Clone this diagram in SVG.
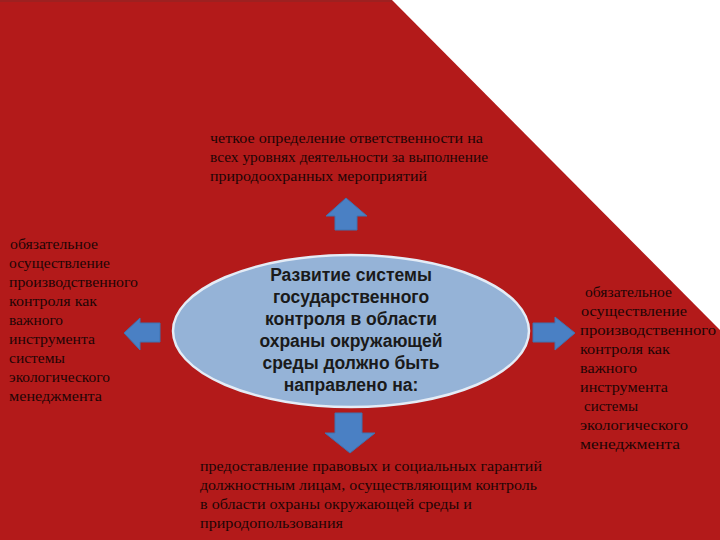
<svg xmlns="http://www.w3.org/2000/svg" width="720" height="540" viewBox="0 0 720 540">
<style>
.t{font-family:"Liberation Serif","Times New Roman",serif;font-size:15px;fill:#1e0505}
.c{font-family:"Liberation Sans",Arial,sans-serif;font-size:17.5px;font-weight:bold;fill:#1a1a1a;text-anchor:middle}
.arr{fill:#4a80c4;stroke:#3f72b0;stroke-width:1}
</style>
<rect width="720" height="540" fill="#ffffff"/>
<polygon points="0,0 392,0 720,330 720,540 0,540" fill="#b31a1a"/>
<line x1="0" y1="1" x2="392" y2="1" stroke="#9e2020" stroke-width="2"/>
<g id="connectors">
<polygon class="arr" points="346,198 367,216 357,216 357,230 335,230 335,216 326,216"/>
<polygon class="arr" points="124,333 140,318 140,323 160,323 160,342 140,342 140,350"/>
<polygon class="arr" points="575,333 555,317 555,323 533,323 533,342 555,342 555,350"/>
<polygon class="arr" points="350,453 375,433 362,433 362,413 335,413 335,433 325,433"/>
</g>
<g id="center">
<ellipse cx="351" cy="331" rx="178" ry="76" fill="#95b3d7" stroke="#e4ecf6" stroke-width="2.5"/>
<text class="c" x="351" y="281">Развитие системы</text>
<text class="c" x="351" y="303">государственного</text>
<text class="c" x="351" y="325">контроля в области</text>
<text class="c" x="351" y="347">охраны окружающей</text>
<text class="c" x="351" y="369">среды должно быть</text>
<text class="c" x="351" y="391">направлено на:</text>
</g>
<g id="top">
<text class="t" x="210" y="143" textLength="273" lengthAdjust="spacingAndGlyphs">четкое определение ответственности на</text>
<text class="t" x="210" y="162" textLength="278" lengthAdjust="spacingAndGlyphs">всех уровнях деятельности за выполнение</text>
<text class="t" x="210" y="181" textLength="217" lengthAdjust="spacingAndGlyphs">природоохранных мероприятий</text>
</g>
<g id="left">
<text class="t" x="10" y="249" textLength="88" lengthAdjust="spacingAndGlyphs">обязательное</text>
<text class="t" x="9" y="268" textLength="101" lengthAdjust="spacingAndGlyphs">осуществление</text>
<text class="t" x="9" y="287" textLength="129" lengthAdjust="spacingAndGlyphs">производственного</text>
<text class="t" x="9" y="306" textLength="88" lengthAdjust="spacingAndGlyphs">контроля как</text>
<text class="t" x="9" y="325" textLength="54" lengthAdjust="spacingAndGlyphs">важного</text>
<text class="t" x="9" y="344" textLength="86" lengthAdjust="spacingAndGlyphs">инструмента</text>
<text class="t" x="9" y="363" textLength="56" lengthAdjust="spacingAndGlyphs">системы</text>
<text class="t" x="9" y="382" textLength="101" lengthAdjust="spacingAndGlyphs">экологического</text>
<text class="t" x="9" y="401" textLength="93" lengthAdjust="spacingAndGlyphs">менеджмента</text>
</g>
<g id="right">
<text class="t" x="585" y="297" textLength="87" lengthAdjust="spacingAndGlyphs">обязательное</text>
<text class="t" x="581" y="316" textLength="106" lengthAdjust="spacingAndGlyphs">осуществление</text>
<text class="t" x="580" y="335" textLength="136" lengthAdjust="spacingAndGlyphs">производственного</text>
<text class="t" x="580" y="354" textLength="90" lengthAdjust="spacingAndGlyphs">контроля как</text>
<text class="t" x="580" y="373" textLength="57" lengthAdjust="spacingAndGlyphs">важного</text>
<text class="t" x="580" y="392" textLength="88" lengthAdjust="spacingAndGlyphs">инструмента</text>
<text class="t" x="584" y="411" textLength="54" lengthAdjust="spacingAndGlyphs">системы</text>
<text class="t" x="580" y="430" textLength="108" lengthAdjust="spacingAndGlyphs">экологического</text>
<text class="t" x="580" y="449" textLength="100" lengthAdjust="spacingAndGlyphs">менеджмента</text>
</g>
<g id="bottom">
<text class="t" x="200" y="471" textLength="342" lengthAdjust="spacingAndGlyphs">предоставление правовых и социальных гарантий</text>
<text class="t" x="200" y="490" textLength="337" lengthAdjust="spacingAndGlyphs">должностным лицам, осуществляющим контроль</text>
<text class="t" x="200" y="509" textLength="272" lengthAdjust="spacingAndGlyphs">в области охраны окружающей среды и</text>
<text class="t" x="200" y="528" textLength="143" lengthAdjust="spacingAndGlyphs">природопользования</text>
</g>
</svg>
